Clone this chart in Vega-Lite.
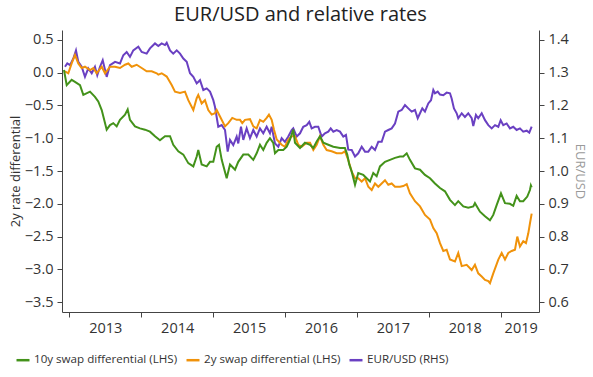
{
  "$schema": "https://vega.github.io/schema/vega-lite/v6.json",
  "width": 477,
  "height": 282,
  "autosize": {"type": "none"},
  "padding": {"left": 62, "top": 30, "right": 54, "bottom": 65},
  "config": {
    "font": "Open Sans",
    "view": {"stroke": null},
    "axis": {"labelFont": "Open Sans", "labelFontSize": 14.5, "labelColor": "#333", "domainColor": "#444", "tickColor": "#444", "grid": false, "titleFont": "Open Sans", "titleFontWeight": "normal", "titleFontSize": 13}
  },
  "title": {"text": "EUR/USD and relative rates", "fontSize": 20, "fontWeight": "normal", "color": "#222", "font": "Open Sans", "offset": 5},
  "datasets": {
    "g10": [
      {"t":2012.926,"v":0.04},{"t":2012.964,"v":-0.19},{"t":2013.033,"v":-0.11},{"t":2013.079,"v":-0.14},{"t":2013.149,"v":-0.19},{"t":2013.195,"v":-0.34},{"t":2013.288,"v":-0.29},{"t":2013.357,"v":-0.37},{"t":2013.403,"v":-0.44},{"t":2013.451,"v":-0.57},{"t":2013.520,"v":-0.87},{"t":2013.566,"v":-0.80},{"t":2013.612,"v":-0.77},{"t":2013.659,"v":-0.82},{"t":2013.705,"v":-0.72},{"t":2013.775,"v":-0.64},{"t":2013.812,"v":-0.56},{"t":2013.844,"v":-0.72},{"t":2013.914,"v":-0.82},{"t":2013.983,"v":-0.85},{"t":2014.053,"v":-0.87},{"t":2014.122,"v":-0.90},{"t":2014.192,"v":-0.97},{"t":2014.261,"v":-1.03},{"t":2014.331,"v":-0.97},{"t":2014.401,"v":-0.97},{"t":2014.446,"v":-1.10},{"t":2014.516,"v":-1.20},{"t":2014.586,"v":-1.25},{"t":2014.655,"v":-1.38},{"t":2014.725,"v":-1.43},{"t":2014.772,"v":-1.28},{"t":2014.794,"v":-1.18},{"t":2014.841,"v":-1.40},{"t":2014.911,"v":-1.43},{"t":2014.957,"v":-1.36},{"t":2015.003,"v":-1.36},{"t":2015.050,"v":-1.13},{"t":2015.082,"v":-1.10},{"t":2015.120,"v":-1.33},{"t":2015.189,"v":-1.61},{"t":2015.235,"v":-1.40},{"t":2015.305,"v":-1.48},{"t":2015.350,"v":-1.36},{"t":2015.420,"v":-1.25},{"t":2015.490,"v":-1.25},{"t":2015.559,"v":-1.33},{"t":2015.606,"v":-1.23},{"t":2015.652,"v":-1.10},{"t":2015.698,"v":-1.18},{"t":2015.745,"v":-1.07},{"t":2015.791,"v":-1.00},{"t":2015.837,"v":-1.07},{"t":2015.861,"v":-1.23},{"t":2015.907,"v":-1.18},{"t":2015.976,"v":-1.18},{"t":2016.024,"v":-1.13},{"t":2016.070,"v":-1.02},{"t":2016.115,"v":-0.87},{"t":2016.139,"v":-1.07},{"t":2016.209,"v":-1.15},{"t":2016.278,"v":-1.07},{"t":2016.348,"v":-1.10},{"t":2016.394,"v":-1.15},{"t":2016.441,"v":-1.05},{"t":2016.487,"v":-0.97},{"t":2016.533,"v":-1.07},{"t":2016.602,"v":-1.10},{"t":2016.672,"v":-1.13},{"t":2016.765,"v":-1.15},{"t":2016.834,"v":-1.15},{"t":2016.866,"v":-1.25},{"t":2016.894,"v":-1.40},{"t":2016.928,"v":-1.51},{"t":2016.974,"v":-1.71},{"t":2017.019,"v":-1.53},{"t":2017.089,"v":-1.56},{"t":2017.136,"v":-1.61},{"t":2017.182,"v":-1.66},{"t":2017.228,"v":-1.53},{"t":2017.275,"v":-1.58},{"t":2017.321,"v":-1.43},{"t":2017.391,"v":-1.36},{"t":2017.460,"v":-1.33},{"t":2017.530,"v":-1.30},{"t":2017.599,"v":-1.28},{"t":2017.645,"v":-1.28},{"t":2017.693,"v":-1.23},{"t":2017.738,"v":-1.33},{"t":2017.808,"v":-1.46},{"t":2017.878,"v":-1.48},{"t":2017.947,"v":-1.56},{"t":2018.017,"v":-1.61},{"t":2018.086,"v":-1.69},{"t":2018.156,"v":-1.76},{"t":2018.225,"v":-1.81},{"t":2018.295,"v":-1.94},{"t":2018.364,"v":-2.02},{"t":2018.410,"v":-1.96},{"t":2018.480,"v":-2.04},{"t":2018.549,"v":-2.06},{"t":2018.619,"v":-2.04},{"t":2018.642,"v":-1.99},{"t":2018.712,"v":-2.12},{"t":2018.782,"v":-2.19},{"t":2018.851,"v":-2.25},{"t":2018.897,"v":-2.17},{"t":2018.944,"v":-2.02},{"t":2019.004,"v":-1.84},{"t":2019.060,"v":-1.99},{"t":2019.129,"v":-2.00},{"t":2019.175,"v":-2.03},{"t":2019.222,"v":-1.88},{"t":2019.268,"v":-1.96},{"t":2019.314,"v":-1.96},{"t":2019.370,"v":-1.89},{"t":2019.407,"v":-1.79},{"t":2019.420,"v":-1.72},{"t":2019.431,"v":-1.75}
    ],
    "g2": [
      {"t":2012.940,"v":0.02},{"t":2012.986,"v":-0.01},{"t":2013.033,"v":0.14},{"t":2013.079,"v":0.27},{"t":2013.125,"v":0.14},{"t":2013.172,"v":0.07},{"t":2013.218,"v":0.09},{"t":2013.288,"v":0.04},{"t":2013.334,"v":0.07},{"t":2013.381,"v":-0.01},{"t":2013.451,"v":0.09},{"t":2013.497,"v":-0.01},{"t":2013.566,"v":0.09},{"t":2013.636,"v":0.09},{"t":2013.705,"v":0.07},{"t":2013.775,"v":0.12},{"t":2013.821,"v":0.14},{"t":2013.868,"v":0.09},{"t":2013.937,"v":0.12},{"t":2014.007,"v":0.07},{"t":2014.076,"v":0.02},{"t":2014.146,"v":0.02},{"t":2014.216,"v":-0.01},{"t":2014.238,"v":-0.03},{"t":2014.285,"v":-0.01},{"t":2014.355,"v":-0.06},{"t":2014.424,"v":-0.19},{"t":2014.470,"v":-0.29},{"t":2014.540,"v":-0.31},{"t":2014.609,"v":-0.29},{"t":2014.655,"v":-0.42},{"t":2014.725,"v":-0.57},{"t":2014.772,"v":-0.39},{"t":2014.794,"v":-0.34},{"t":2014.841,"v":-0.47},{"t":2014.887,"v":-0.42},{"t":2014.933,"v":-0.57},{"t":2014.981,"v":-0.64},{"t":2015.026,"v":-0.62},{"t":2015.050,"v":-0.57},{"t":2015.096,"v":-0.67},{"t":2015.166,"v":-0.82},{"t":2015.211,"v":-0.77},{"t":2015.267,"v":-0.69},{"t":2015.328,"v":-0.72},{"t":2015.374,"v":-0.72},{"t":2015.406,"v":-0.77},{"t":2015.444,"v":-0.72},{"t":2015.513,"v":-0.71},{"t":2015.559,"v":-0.82},{"t":2015.606,"v":-0.85},{"t":2015.652,"v":-0.72},{"t":2015.698,"v":-0.75},{"t":2015.745,"v":-0.69},{"t":2015.777,"v":-0.64},{"t":2015.815,"v":-0.72},{"t":2015.847,"v":-0.87},{"t":2015.885,"v":-1.02},{"t":2015.954,"v":-1.10},{"t":2016.000,"v":-1.13},{"t":2016.046,"v":-1.02},{"t":2016.093,"v":-0.97},{"t":2016.139,"v":-0.97},{"t":2016.185,"v":-1.10},{"t":2016.232,"v":-1.13},{"t":2016.302,"v":-1.07},{"t":2016.348,"v":-1.07},{"t":2016.394,"v":-1.18},{"t":2016.441,"v":-1.10},{"t":2016.487,"v":-0.97},{"t":2016.533,"v":-1.10},{"t":2016.580,"v":-1.18},{"t":2016.649,"v":-1.20},{"t":2016.719,"v":-1.23},{"t":2016.789,"v":-1.23},{"t":2016.834,"v":-1.20},{"t":2016.880,"v":-1.33},{"t":2016.928,"v":-1.51},{"t":2016.974,"v":-1.61},{"t":2017.019,"v":-1.61},{"t":2017.067,"v":-1.66},{"t":2017.113,"v":-1.61},{"t":2017.159,"v":-1.74},{"t":2017.206,"v":-1.79},{"t":2017.252,"v":-1.69},{"t":2017.298,"v":-1.74},{"t":2017.345,"v":-1.69},{"t":2017.391,"v":-1.64},{"t":2017.437,"v":-1.71},{"t":2017.484,"v":-1.69},{"t":2017.530,"v":-1.74},{"t":2017.599,"v":-1.74},{"t":2017.645,"v":-1.73},{"t":2017.693,"v":-1.70},{"t":2017.738,"v":-1.84},{"t":2017.808,"v":-1.96},{"t":2017.878,"v":-2.04},{"t":2017.947,"v":-2.17},{"t":2018.017,"v":-2.24},{"t":2018.063,"v":-2.37},{"t":2018.110,"v":-2.45},{"t":2018.156,"v":-2.60},{"t":2018.202,"v":-2.72},{"t":2018.249,"v":-2.70},{"t":2018.295,"v":-2.85},{"t":2018.364,"v":-2.88},{"t":2018.410,"v":-2.75},{"t":2018.458,"v":-2.95},{"t":2018.527,"v":-2.93},{"t":2018.597,"v":-3.01},{"t":2018.642,"v":-2.93},{"t":2018.688,"v":-3.06},{"t":2018.736,"v":-3.11},{"t":2018.782,"v":-3.16},{"t":2018.828,"v":-3.18},{"t":2018.851,"v":-3.21},{"t":2018.897,"v":-3.06},{"t":2018.967,"v":-2.85},{"t":2019.014,"v":-2.75},{"t":2019.060,"v":-2.85},{"t":2019.106,"v":-2.75},{"t":2019.153,"v":-2.72},{"t":2019.199,"v":-2.70},{"t":2019.231,"v":-2.50},{"t":2019.268,"v":-2.65},{"t":2019.314,"v":-2.57},{"t":2019.352,"v":-2.60},{"t":2019.384,"v":-2.45},{"t":2019.407,"v":-2.30},{"t":2019.431,"v":-2.15}
    ],
    "fx": [
      {"t":2012.940,"v":1.318},{"t":2012.972,"v":1.328},{"t":2013.010,"v":1.323},{"t":2013.056,"v":1.343},{"t":2013.093,"v":1.368},{"t":2013.125,"v":1.333},{"t":2013.172,"v":1.318},{"t":2013.218,"v":1.287},{"t":2013.264,"v":1.313},{"t":2013.312,"v":1.298},{"t":2013.357,"v":1.318},{"t":2013.389,"v":1.292},{"t":2013.427,"v":1.318},{"t":2013.465,"v":1.338},{"t":2013.520,"v":1.287},{"t":2013.566,"v":1.323},{"t":2013.636,"v":1.333},{"t":2013.705,"v":1.328},{"t":2013.751,"v":1.353},{"t":2013.798,"v":1.363},{"t":2013.844,"v":1.348},{"t":2013.890,"v":1.368},{"t":2013.960,"v":1.379},{"t":2014.007,"v":1.363},{"t":2014.076,"v":1.358},{"t":2014.122,"v":1.374},{"t":2014.192,"v":1.389},{"t":2014.238,"v":1.381},{"t":2014.285,"v":1.389},{"t":2014.331,"v":1.384},{"t":2014.355,"v":1.391},{"t":2014.401,"v":1.368},{"t":2014.446,"v":1.358},{"t":2014.494,"v":1.368},{"t":2014.540,"v":1.358},{"t":2014.586,"v":1.343},{"t":2014.633,"v":1.333},{"t":2014.679,"v":1.298},{"t":2014.725,"v":1.287},{"t":2014.772,"v":1.267},{"t":2014.818,"v":1.277},{"t":2014.864,"v":1.247},{"t":2014.911,"v":1.252},{"t":2014.957,"v":1.242},{"t":2015.003,"v":1.216},{"t":2015.026,"v":1.196},{"t":2015.072,"v":1.135},{"t":2015.120,"v":1.140},{"t":2015.166,"v":1.125},{"t":2015.203,"v":1.059},{"t":2015.235,"v":1.095},{"t":2015.281,"v":1.079},{"t":2015.328,"v":1.105},{"t":2015.350,"v":1.084},{"t":2015.388,"v":1.135},{"t":2015.420,"v":1.095},{"t":2015.467,"v":1.130},{"t":2015.513,"v":1.100},{"t":2015.559,"v":1.125},{"t":2015.606,"v":1.105},{"t":2015.652,"v":1.130},{"t":2015.698,"v":1.115},{"t":2015.745,"v":1.135},{"t":2015.791,"v":1.115},{"t":2015.815,"v":1.135},{"t":2015.861,"v":1.084},{"t":2015.907,"v":1.074},{"t":2015.954,"v":1.100},{"t":2016.000,"v":1.089},{"t":2016.046,"v":1.105},{"t":2016.093,"v":1.125},{"t":2016.115,"v":1.130},{"t":2016.163,"v":1.105},{"t":2016.209,"v":1.115},{"t":2016.254,"v":1.135},{"t":2016.302,"v":1.140},{"t":2016.338,"v":1.150},{"t":2016.371,"v":1.130},{"t":2016.417,"v":1.135},{"t":2016.463,"v":1.135},{"t":2016.510,"v":1.105},{"t":2016.556,"v":1.115},{"t":2016.602,"v":1.120},{"t":2016.636,"v":1.130},{"t":2016.672,"v":1.120},{"t":2016.719,"v":1.125},{"t":2016.765,"v":1.120},{"t":2016.811,"v":1.105},{"t":2016.848,"v":1.110},{"t":2016.880,"v":1.065},{"t":2016.928,"v":1.064},{"t":2016.974,"v":1.044},{"t":2017.019,"v":1.054},{"t":2017.067,"v":1.074},{"t":2017.113,"v":1.059},{"t":2017.159,"v":1.059},{"t":2017.206,"v":1.074},{"t":2017.252,"v":1.064},{"t":2017.298,"v":1.089},{"t":2017.345,"v":1.089},{"t":2017.391,"v":1.120},{"t":2017.437,"v":1.125},{"t":2017.484,"v":1.130},{"t":2017.530,"v":1.145},{"t":2017.576,"v":1.181},{"t":2017.623,"v":1.186},{"t":2017.669,"v":1.201},{"t":2017.715,"v":1.191},{"t":2017.762,"v":1.181},{"t":2017.808,"v":1.186},{"t":2017.846,"v":1.161},{"t":2017.878,"v":1.176},{"t":2017.910,"v":1.191},{"t":2017.947,"v":1.181},{"t":2017.993,"v":1.206},{"t":2018.031,"v":1.216},{"t":2018.063,"v":1.247},{"t":2018.086,"v":1.237},{"t":2018.124,"v":1.242},{"t":2018.156,"v":1.233},{"t":2018.202,"v":1.231},{"t":2018.249,"v":1.239},{"t":2018.295,"v":1.237},{"t":2018.318,"v":1.221},{"t":2018.350,"v":1.191},{"t":2018.388,"v":1.176},{"t":2018.410,"v":1.161},{"t":2018.458,"v":1.176},{"t":2018.503,"v":1.165},{"t":2018.549,"v":1.176},{"t":2018.597,"v":1.161},{"t":2018.619,"v":1.137},{"t":2018.656,"v":1.171},{"t":2018.688,"v":1.161},{"t":2018.736,"v":1.176},{"t":2018.782,"v":1.155},{"t":2018.828,"v":1.140},{"t":2018.875,"v":1.130},{"t":2018.921,"v":1.140},{"t":2018.967,"v":1.135},{"t":2019.000,"v":1.155},{"t":2019.036,"v":1.140},{"t":2019.083,"v":1.145},{"t":2019.129,"v":1.130},{"t":2019.175,"v":1.135},{"t":2019.222,"v":1.125},{"t":2019.268,"v":1.130},{"t":2019.314,"v":1.120},{"t":2019.362,"v":1.123},{"t":2019.398,"v":1.117},{"t":2019.431,"v":1.135}
    ]
  },
  "encoding": {
    "x": {
      "field": "t",
      "type": "quantitative",
      "scale": {"domain": [2012.8985, 2019.533], "nice": false, "zero": false},
      "axis": {
        "title": null,
        "values": [2013, 2014, 2015, 2016, 2017, 2018, 2019],
        "format": "d",
        "tickSize": 5,
        "labelPadding": 4,
        "labelFlush": false,
        "labelBound": false,
        "labelOverlap": false,
        "labelOffset": {"condition": {"test": "datum.value == 2019", "value": 20}, "value": 36}
      }
    }
  },
  "layer": [
    {
      "data": {"name": "fx"},
      "mark": {"type": "line", "strokeWidth": 2},
      "encoding": {
        "y": {
          "field": "v",
          "type": "quantitative",
          "scale": {"domain": [0.57, 1.43], "nice": false, "zero": false},
          "axis": {
            "orient": "right",
            "title": "EUR/USD",
            "titleColor": "#9a9a9a",
            "titlePadding": 4,
            "values": [0.6, 0.7, 0.8, 0.9, 1.0, 1.1, 1.2, 1.3, 1.4],
            "format": ".1f",
            "tickSize": 5,
            "labelPadding": 4
          }
        },
        "color": {
          "datum": "EUR/USD (RHS)",
          "type": "nominal",
          "scale": {
            "domain": ["10y swap differential (LHS)", "2y swap differential (LHS)", "EUR/USD (RHS)"],
            "range": ["#43921a", "#f0920a", "#6a40c2"]
          },
          "legend": {
            "title": null,
            "orient": "none",
            "legendX": -47,
            "legendY": 322,
            "direction": "horizontal",
            "symbolType": "stroke",
            "symbolSize": 169,
            "symbolStrokeWidth": 2.5,
            "labelFontSize": 11.6,
            "labelFont": "Open Sans",
            "labelColor": "#333",
            "labelOffset": 3,
            "labelLimit": 400,
            "columnPadding": 3
          }
        }
      }
    },
    {
      "encoding": {
        "y": {
          "field": "v",
          "type": "quantitative",
          "scale": {"domain": [-3.65, 0.65], "nice": false, "zero": false},
          "axis": {
            "orient": "left",
            "title": "2y rate differential",
            "titleColor": "#333",
            "titlePadding": 2,
            "values": [-3.5, -3, -2.5, -2, -1.5, -1, -0.5, 0, 0.5],
            "format": ".1f",
            "tickSize": 5,
            "labelPadding": 4
          }
        }
      },
      "layer": [
        {
          "data": {"name": "g2"},
          "mark": {"type": "line", "strokeWidth": 2},
          "encoding": {"color": {"datum": "2y swap differential (LHS)", "type": "nominal"}}
        },
        {
          "data": {"name": "g10"},
          "mark": {"type": "line", "strokeWidth": 2},
          "encoding": {"color": {"datum": "10y swap differential (LHS)", "type": "nominal"}}
        }
      ]
    }
  ],
  "resolve": {"scale": {"y": "independent"}}
}
